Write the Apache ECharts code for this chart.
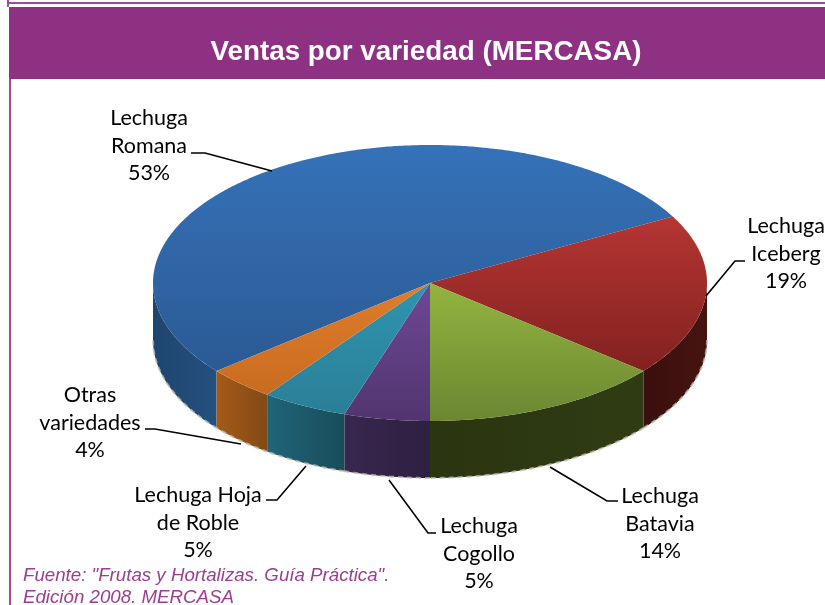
<!DOCTYPE html>
<html>
<head>
<meta charset="utf-8">
<style>
  html, body { margin: 0; padding: 0; background: #fff; }
  #chart { width: 825px; height: 605px; }
</style>
</head>
<body>
<div id="chart"></div>

<script src="https://cdn.jsdelivr.net/npm/echarts@6/dist/echarts.min.js"></script>
<script>
  const categories = ['Lechuga\nRomana', 'Lechuga\nIceberg', 'Lechuga\nBatavia', 'Lechuga\nCogollo', 'Lechuga Hoja\nde Roble', 'Otras\nvariedades'];
  const shares = [53, 19, 14, 5, 5, 4];

  // colores: cara superior (claro, oscuro) y lateral (izq, der)
  const topColors = [['#3572b8', '#2b5a94'], ['#b53633', '#82211f'], ['#93b440', '#6c8731'], ['#6f4796', '#51356f'], ['#3094b0', '#2a7f97'], ['#e07c2c', '#c96c20']];
  const sideColors = [['#1f456f', '#24507f'], ['#3a0f0d', '#451411'], ['#2b3511', '#2f3c13'], ['#39274f', '#2d2040'], ['#1f6579', '#1a4c5a'], ['#a65a18', '#824a16']];

  // posicion del centro de cada etiqueta y su linea guia
  const labelPos = [[149, 146], [786, 254], [660, 524], [479, 554], [198, 523], [90, 423]];
  const leaders = [
    [[191, 153], [205, 153], [272, 171]],
    [[745, 261], [735, 261], [706, 296]],
    [[618, 501], [607, 501], [550, 467]],
    [[436, 533], [428, 533], [389, 480]],
    [[266, 500], [277, 500], [306, 466]],
    [[145, 429], [155, 429], [241, 444]]
  ];

  const cx = 430, cy = 283, rx = 277, ry = 138, depth = 57;
  const startAngle = 230.4; // grados, sentido horario desde arriba

  const total = shares.reduce((a, b) => a + b, 0);

  function rimPoint(deg, dy) {
    const a = deg * Math.PI / 180;
    return [cx + rx * Math.sin(a), cy - ry * Math.cos(a) + (dy || 0)];
  }

  function arcPoints(from, to, dy) {
    const pts = [];
    const n = Math.max(2, Math.ceil((to - from) * 2));
    for (let i = 0; i <= n; i++) {
      pts.push(rimPoint(from + (to - from) * i / n, dy));
    }
    return pts;
  }

  function grad(x2, y2, c) {
    return { type: 'linear', x: 0, y: 0, x2: x2, y2: y2, colorStops: [{ offset: 0, color: c[0] }, { offset: 1, color: c[1] }] };
  }

  function renderSlice(params, api) {
    const i = params.dataIndex;
    let from = startAngle;
    for (let k = 0; k < i; k++) from += shares[k] / total * 360;
    const to = from + api.value(0) / total * 360;
    const children = [];

    // pared lateral: solo la parte delantera (90 a 270 grados)
    const ranges = [[from, to], [from - 360, to - 360]];
    ranges.forEach(r => {
      const a = Math.max(r[0], 90), b = Math.min(r[1], 270);
      if (b <= a) return;
      const upper = arcPoints(a, b, 0);
      const lower = arcPoints(a, b, depth);
      children.push({
        type: 'polygon',
        z2: 1,
        shape: { points: upper.concat(lower.reverse()) },
        style: { fill: grad(1, 0, sideColors[i]) }
      });
      children.push({
        type: 'polyline',
        z2: 2,
        shape: { points: arcPoints(a, b, depth) },
        style: { fill: null, stroke: 'rgba(190,192,180,0.75)', lineWidth: 2, lineDash: [5, 4] }
      });
    });

    // cara superior
    children.push({
      type: 'polygon',
      z2: 3,
      shape: { points: [[cx, cy]].concat(arcPoints(from, to, 0)) },
      style: { fill: grad(0, 1, topColors[i]) }
    });

    // linea guia y etiqueta
    children.push({
      type: 'polyline',
      z2: 4,
      shape: { points: leaders[i] },
      style: { fill: null, stroke: '#000', lineWidth: 1.6 }
    });
    children.push({
      type: 'text',
      z2: 5,
      style: {
        text: categories[i] + '\n' + api.value(0) + '%',
        x: labelPos[i][0],
        y: labelPos[i][1],
        align: 'center',
        verticalAlign: 'middle',
        fill: '#000',
        font: '21.5px Lato',
        lineHeight: 27.5
      }
    });
    return { type: 'group', children: children };
  }

  const chart = echarts.init(document.getElementById('chart'));

  chart.setOption({
    animation: false,
    title: {
      text: 'Ventas por variedad (MERCASA)',
      left: 421,
      top: 33,
      textAlign: 'center',
      textStyle: { color: '#fff', fontFamily: 'Liberation Sans', fontWeight: 'bold', fontSize: 27.8 }
    },
    graphic: [
      { type: 'line', z: -1, shape: { x1: 8, y1: 3, x2: 825, y2: 3 }, style: { stroke: '#a04a9c', lineWidth: 2 } },
      { type: 'line', z: -1, shape: { x1: 8, y1: 0, x2: 8, y2: 7 }, style: { stroke: '#a04a9c', lineWidth: 2 } },
      { type: 'rect', z: -1, shape: { x: 9, y: 7, width: 816, height: 72 }, style: { fill: '#8e3183' } },
      { type: 'line', z: -1, shape: { x1: 10, y1: 79, x2: 10, y2: 605 }, style: { stroke: '#a04a9c', lineWidth: 2 } },
      {
        type: 'text', z: 5, x: 23, y: 565,
        style: {
          text: 'Fuente: "Frutas y Hortalizas. Guía Práctica".\nEdición 2008. MERCASA',
          fill: '#9b3d93',
          font: 'italic 18.7px "Liberation Sans"',
          lineHeight: 22
        }
      }
    ],
    series: [{
      type: 'custom',
      coordinateSystem: 'none',
      renderItem: renderSlice,
      data: shares.map(v => [v])
    }]
  });
</script>
</body>
</html>
